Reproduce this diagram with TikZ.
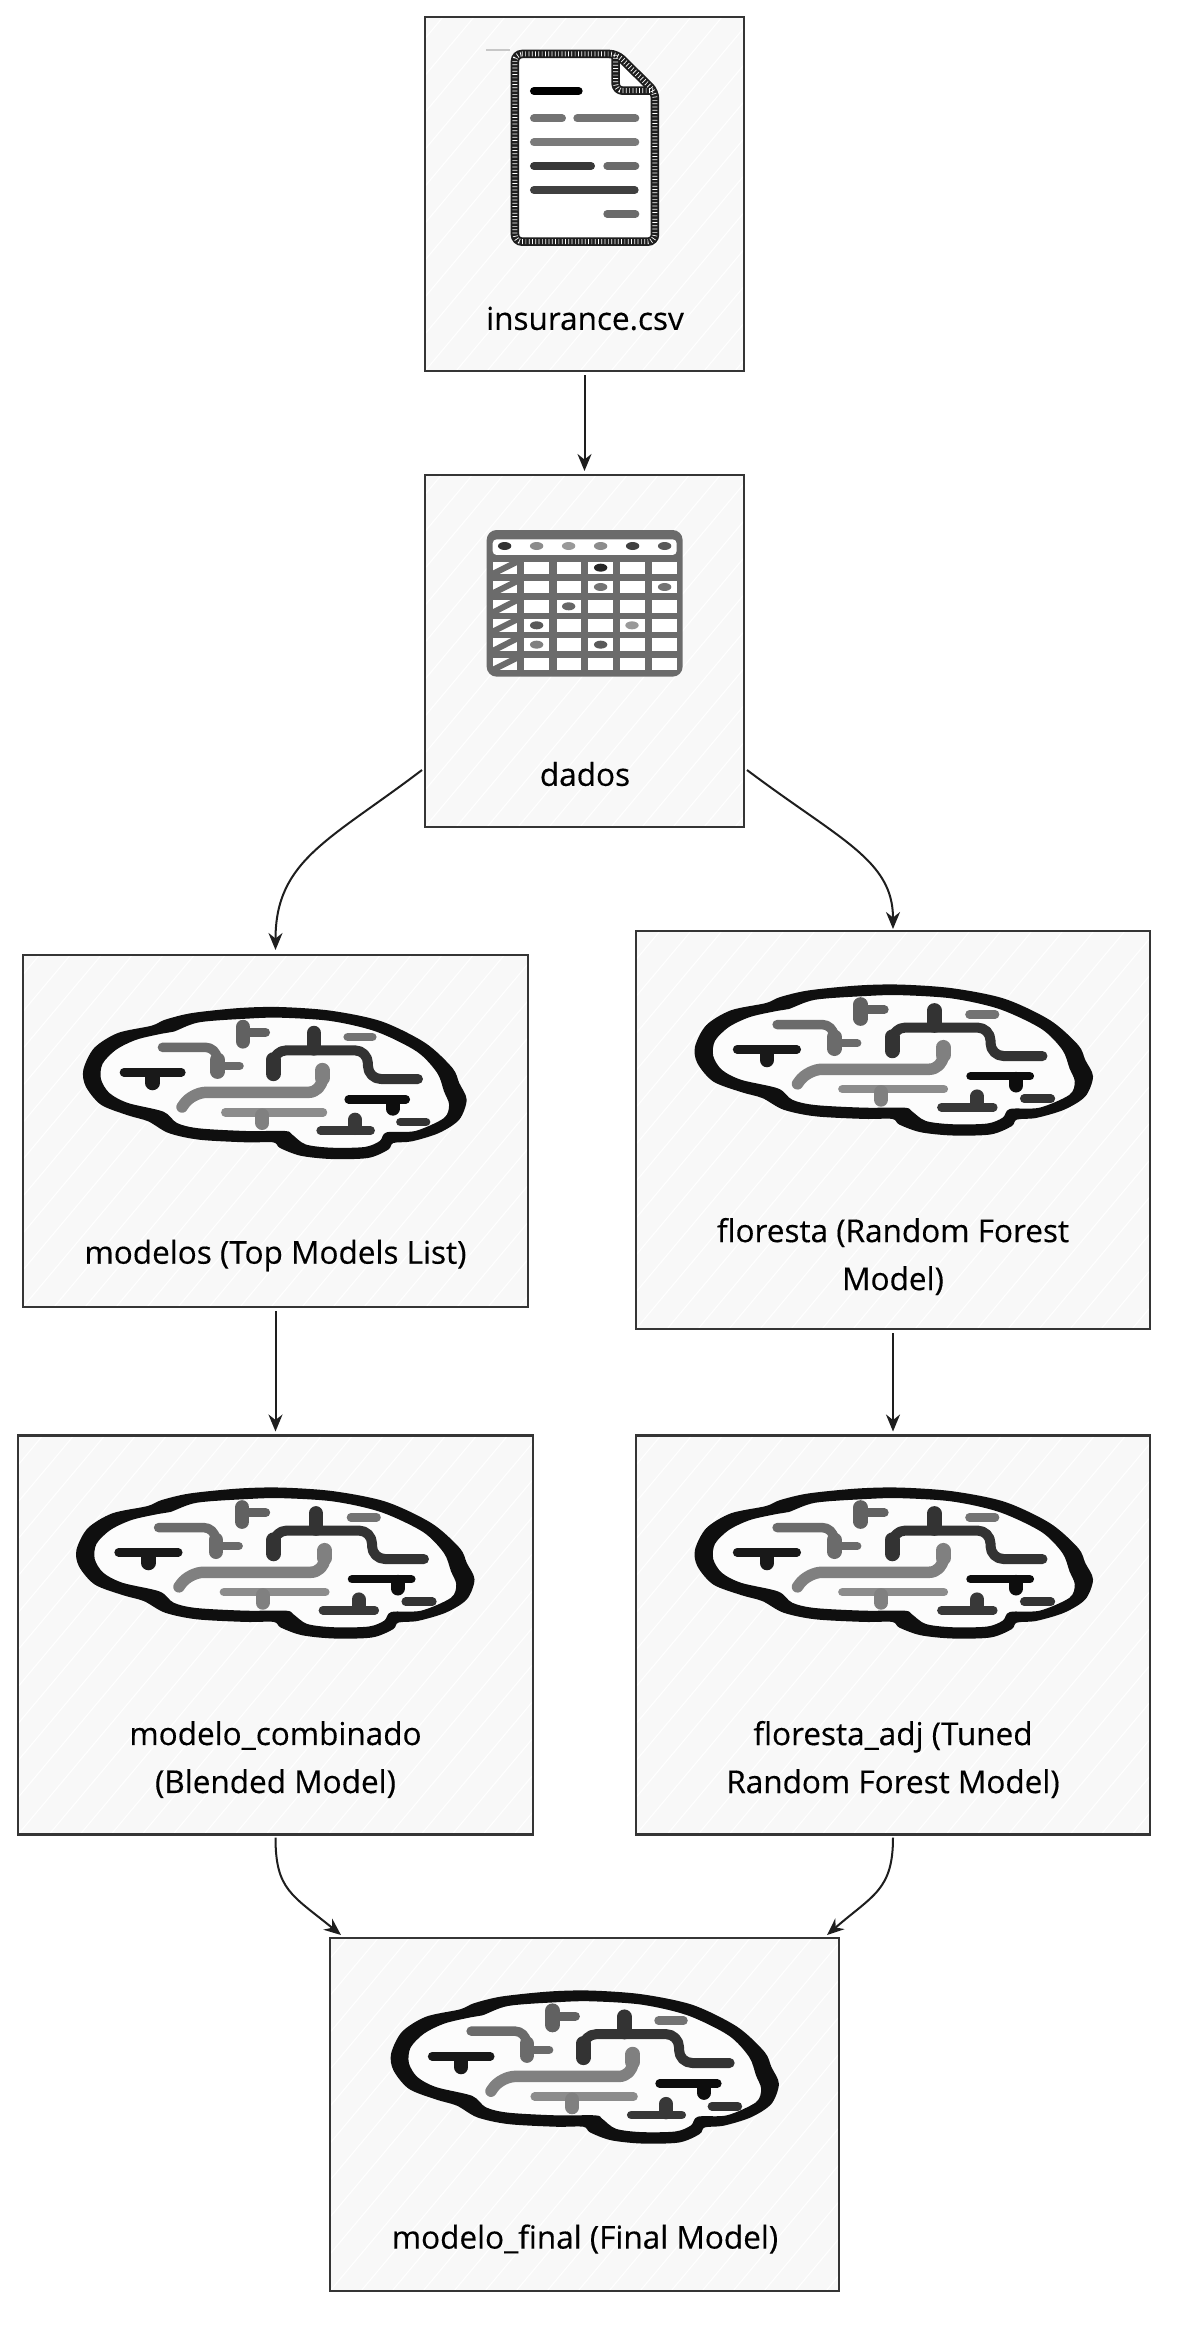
\documentclass[tikz,border=0pt]{standalone}
\usepackage{fontspec}
\setmainfont[FakeBold=0.35]{Open Sans}
\usetikzlibrary{arrows.meta}
\definecolor{ink}{HTML}{1E1E1E}
\definecolor{boxfill}{HTML}{F8F8F8}
\tikzset{
  x=1pt,y=-1pt,
  boxnode/.style={draw=ink!90,line width=2.8pt,fill=boxfill,inner sep=0pt,outer sep=0pt,
    path picture={\foreach \k in {-26,...,26}{
      \draw[white,line width=1.1pt]([xshift=\k*31pt]path picture bounding box.south west) -- ++(600,-715);}}},
  lab/.style={text=black,font=\fontsize{31.5}{48}\selectfont,align=center,inner sep=0pt},
  conn/.style={draw=ink,line width=2pt,-{Stealth[length=17pt,width=14pt]}},
  st/.style={line cap=round,line join=round},
  brainicon/.pic={
    \begin{scope}[shift={(-785,-400)}]
    \fill[white!55!boxfill]
      plot[smooth cycle,tension=.5] coordinates {(460,210)(540,190)(680,175)(800,172)(950,183)(1100,215)(1230,280)(1310,355)(1330,400)(1352,450)(1330,510)(1270,550)(1190,575)(1135,580)(1120,600)(1060,625)(950,628)(860,618)(800,595)(780,578)(700,578)(560,570)(470,550)(410,515)(350,497)(270,465)(225,410)(218,360)(250,295)(320,250)(420,228)};
    \fill[black!94,even odd rule]
      plot[smooth cycle,tension=.5] coordinates {(460,210)(540,190)(680,175)(800,172)(950,183)(1100,215)(1230,280)(1310,355)(1330,400)(1352,450)(1330,510)(1270,550)(1190,575)(1135,580)(1120,600)(1060,625)(950,628)(860,618)(800,595)(780,578)(700,578)(560,570)(470,550)(410,515)(350,497)(270,465)(225,410)(218,360)(250,295)(320,250)(420,228)}
      plot[smooth cycle,tension=.5] coordinates {(485,246)(560,218)(700,207)(800,204)(950,214)(1085,246)(1205,306)(1265,370)(1285,425)(1300,465)(1285,505)(1200,544)(1115,548)(1095,574)(1050,592)(950,594)(875,584)(835,554)(815,544)(700,544)(560,536)(495,520)(455,486)(350,460)(295,430)(270,388)(275,342)(315,300)(375,270)(450,252)};
    % grey hook
    \draw[st,draw=black!58,line width=9.5pt,rounded corners=11pt](452,293)--(612,293)--(615,340);
    \draw[st,draw=black!58,line width=14.5pt](615,330)--(615,366);
    \draw[st,draw=black!58,line width=8.5pt](625,349)--(680,349);
    % top T
    \draw[st,draw=black!62,line width=14.5pt](690,232)--(690,275);
    \draw[st,draw=black!62,line width=9pt](700,248)--(757,248);
    % large dark path
    \draw[st,draw=black!80,line width=10pt,rounded corners=13pt](780,372)--(780,302)--(1060,302)--(1060,388)--(1208,388);
    \draw[st,draw=black!80,line width=15pt](780,330)--(780,372);
    \draw[st,draw=black!80,line width=14.5pt](900,250)--(900,296);
    \draw[st,draw=black!55,line width=8.5pt](1000,262)--(1073,262);
    % left T
    \draw[st,draw=black!90,line width=8.5pt](338,368)--(508,368);
    \draw[st,draw=black!90,line width=14.5pt](423,378)--(423,400);
    % long wave
    \draw[st,draw=black!50,line width=11.5pt,rounded corners=14pt](925,365)--(925,428)--(540,428)--(510,472);
    \draw[st,draw=black!50,line width=15pt](925,362)--(925,385);
    % lower grey T
    \draw[st,draw=black!45,line width=8.5pt](638,488)--(927,488);
    \draw[st,draw=black!50,line width=14pt](748,497)--(748,520);
    % right T
    \draw[st,draw=black!95,line width=8.5pt](1003,449)--(1172,449);
    \draw[st,draw=black!95,line width=14pt](1133,457)--(1133,477);
    % lower right T
    \draw[st,draw=black!78,line width=8.5pt](920,543)--(1068,543);
    \draw[st,draw=black!78,line width=14pt](1022,510)--(1022,535);
    \draw[st,draw=black!80,line width=8.5pt](1156,517)--(1232,517);
    \end{scope}
  }
}
\newcommand{\docoutline}{(285,162)--(590,162)--(705,275)--(705,725)--(285,725)--cycle}
\newcommand{\docfold}{(587,165)--(587,272)--(705,272)}
\begin{document}
\begin{tikzpicture}
\useasboundingbox (0,0) rectangle (1186,2340);
\fill[white] (0,0) rectangle (1186,2340);

% boxes
\node[boxnode,minimum width=319pt,minimum height=354pt] (csv)  at (584.5,194) {};
\node[boxnode,minimum width=319pt,minimum height=352pt] (dad)  at (584.5,651) {};
\node[boxnode,minimum width=505pt,minimum height=352pt] (mod)  at (275.5,1131) {};
\node[boxnode,minimum width=514pt,minimum height=398pt] (flo)  at (893,1130) {};
\node[boxnode,minimum width=515pt,minimum height=399pt] (com)  at (275.5,1635) {};
\node[boxnode,minimum width=514pt,minimum height=399pt] (adj)  at (893,1635) {};
\node[boxnode,minimum width=509pt,minimum height=353pt] (fin)  at (584.5,2114.5) {};

% document icon
\begin{scope}[shift={(420,0)},scale=.3333]
  \draw[draw=ink,line width=8.5pt,fill=white,rounded corners=7pt] \docoutline;
  \draw[draw=ink,line width=8.5pt,line join=round,rounded corners=7pt] \docfold;
  \draw[draw=white,line width=5pt,dash pattern=on 0.7pt off 2.6pt,rounded corners=7pt] \docoutline;
  \draw[draw=white,line width=5pt,dash pattern=on 0.7pt off 2.6pt,rounded corners=7pt] \docfold;
  \draw[draw=black!22,line width=1.3pt] (198,150)--(270,150);
  \draw[st,draw=black,line width=8pt] (342,273)--(476,273);
  \draw[st,draw=black!55,line width=8pt] (342,355)--(426,355);
  \draw[st,draw=black!55,line width=8pt] (472,355)--(646,355);
  \draw[st,draw=black!52,line width=8pt] (342,427)--(646,427);
  \draw[st,draw=black!78,line width=8pt] (342,498)--(513,498);
  \draw[st,draw=black!58,line width=8pt] (562,498)--(646,498);
  \draw[st,draw=black!75,line width=8pt] (342,570)--(644,570);
  \draw[st,draw=black!58,line width=8pt] (562,642)--(646,642);
\end{scope}

% table icon
\begin{scope}[shift={(420,470)},scale=.3333]
  \fill[black!58,rounded corners=10pt] (200,180) rectangle (788,620);
  \fill[white,rounded corners=4pt] (218,208) rectangle (770,255);
  \foreach \cx/\cc in {254/80,350/45,446/40,542/45,638/75,734/65}
    \fill[black!\cc] (\cx,228) ellipse [x radius=20,y radius=12];
  \foreach \ya/\yb in {275/312,333/370,390/428,448/485,505/543,563/600}{
    \fill[white] (218,\ya) rectangle (292,\yb);
    \foreach \xa/\xb in {312/388,410/484,505/580,600/676,695/770}
      \fill[white] (\xa,\ya) rectangle (\xb,\yb);
    \draw[black!58,line width=6pt] (218,\yb) -- (292,\ya);
  }
  \foreach \cx/\cy/\cc in {542/293/85,542/351/55,734/351/55,446/409/60,350/466/65,636/466/40,350/524/50,542/524/65}
    \fill[black!\cc] (\cx,\cy) ellipse [x radius=20,y radius=12];
\end{scope}

% brains
\pic[xscale=.338,yscale=.3333] at (275,1083) {brainicon};
\pic[xscale=.351,yscale=.331] at (894,1060) {brainicon};
\pic[xscale=.351,yscale=.331] at (275.5,1563) {brainicon};
\pic[xscale=.351,yscale=.331] at (894,1563) {brainicon};
\pic[xscale=.342,yscale=.3355] at (585,2067) {brainicon};

% labels
\node[lab] (tcsv) at (585,318.5) {insurance.csv};
\node[lab] (tdad) at (585,774) {dados};
\node[lab] (tmod) at (275.5,1255.5) {modelos (Top Models List)};
\node[lab] (tflo) at (893,1256.5) {floresta (Random Forest\\Model)};
\node[lab] (tcom) at (275.5,1759.5) {modelo\_combinado\\(Blended Model)};
\node[lab] (tadj) at (893,1759.5) {floresta\_adj (Tuned\\Random Forest Model)};
\node[lab] (tfin) at (585,2239) {modelo\_final (Final Model)};

% connector ends
\coordinate (a1) at ([yshift=-4pt]csv.south);
\coordinate (a2) at ([yshift=4pt]dad.north);
\coordinate (dl) at ([xshift=-3pt,yshift=57pt]dad.south west);
\coordinate (dr) at ([xshift=3pt,yshift=57pt]dad.south east);
\coordinate (mt) at ([yshift=5pt]mod.north);
\coordinate (ft) at ([yshift=2pt]flo.north);
\coordinate (mb) at ([yshift=-4pt]mod.south);
\coordinate (ct) at ([yshift=4pt]com.north);
\coordinate (fb) at ([yshift=-4pt]flo.south);
\coordinate (at) at ([yshift=4pt]adj.north);
\coordinate (cb) at ([yshift=-3pt]com.south);
\coordinate (ab) at ([yshift=-3pt]adj.south);
\coordinate (il) at ([xshift=11pt,yshift=3pt]fin.north west);
\coordinate (ir) at ([xshift=-12pt,yshift=3pt]fin.north east);

% connectors
\draw[conn] (a1) -- (a2);
\draw[conn] (dl) .. controls (330,840) and (275.5,860) .. (mt);
\draw[conn] (dr) .. controls (840,840) and (893,860) .. (ft);
\draw[conn] (mb) -- (ct);
\draw[conn] (fb) -- (at);
\draw[conn] (cb) .. controls (275.5,1890) and (292,1895) .. (il);
\draw[conn] (ab) .. controls (893,1890) and (873,1895) .. (ir);
\end{tikzpicture}
\end{document}
